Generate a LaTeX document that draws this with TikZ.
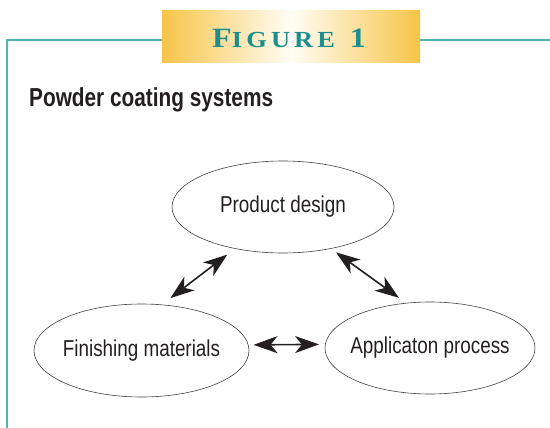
\documentclass[tikz,border=0pt]{standalone}
\usepackage{fontspec}
\usetikzlibrary{shapes.geometric,arrows.meta}
\newfontfamily\ellfont[FakeStretch=0.82]{Liberation Sans}
\newfontfamily\titlefont[FakeStretch=0.8]{Liberation Sans}
\newfontfamily\figfont[FakeStretch=1.15,LetterSpace=18]{Liberation Serif}
\definecolor{tealline}{RGB}{84,178,178}
\definecolor{tealtext}{RGB}{28,142,142}
\definecolor{gold}{RGB}{247,196,72}
\definecolor{cream}{RGB}{255,253,245}
\definecolor{ink}{RGB}{35,31,32}
\tikzset{bigtip/.tip={Stealth[length=24pt,width=17pt,inset=7pt]}}
\begin{document}
\begin{tikzpicture}[x=1pt,y=-1pt,
  oval/.style={ellipse, draw=ink!85, line width=0.6pt, inner sep=0pt, font=\ellfont\fontsize{23}{25}\selectfont, text=ink},
  dblarrow/.style={bigtip-bigtip, line width=1.6pt, draw=ink}]
\useasboundingbox (0,0) rectangle (550,428);
% frame
\draw[tealline, line width=1.4pt] (7,428) -- (7,40) -- (550,40);
% banner
\node[minimum width=258pt, minimum height=52pt, inner sep=0pt, left color=gold, right color=gold, middle color=cream] (banner) at (291,37) {};
\node[anchor=base west, inner sep=0pt, text=tealtext] (figlbl) at (212,48) {\figfont\bfseries\fontsize{28}{28}\selectfont F\fontsize{23}{23}\selectfont IGURE\hspace{4pt} \fontsize{28}{28}\selectfont 1};
% title
\node[anchor=base west, inner sep=0pt, text=ink] (title) at (29,107) {\titlefont\bfseries\fontsize{26}{26}\selectfont Powder coating systems};
% ellipses
\node[oval, minimum width=222pt, minimum height=92pt] (pd) at (283,207) {\makebox[0pt]{Product design}};
\node[oval, minimum width=215pt, minimum height=93pt] (fm) at (141.5,350.5) {\makebox[0pt]{Finishing materials}};
\node[oval, minimum width=210pt, minimum height=92pt] (ap) at (430,348) {\makebox[0pt]{Applicaton process}};
% arrows
\draw[dblarrow, shorten <=10.6pt, shorten >=9.7pt] (fm.66.5) -- (pd.221.4);
\draw[dblarrow, shorten <=6.2pt, shorten >=8.7pt] (pd.319.9) -- (ap.118.2);
\draw[dblarrow, shorten <=5pt, shorten >=6pt] (fm.3) -- (ap.178.4);
\end{tikzpicture}
\end{document}
